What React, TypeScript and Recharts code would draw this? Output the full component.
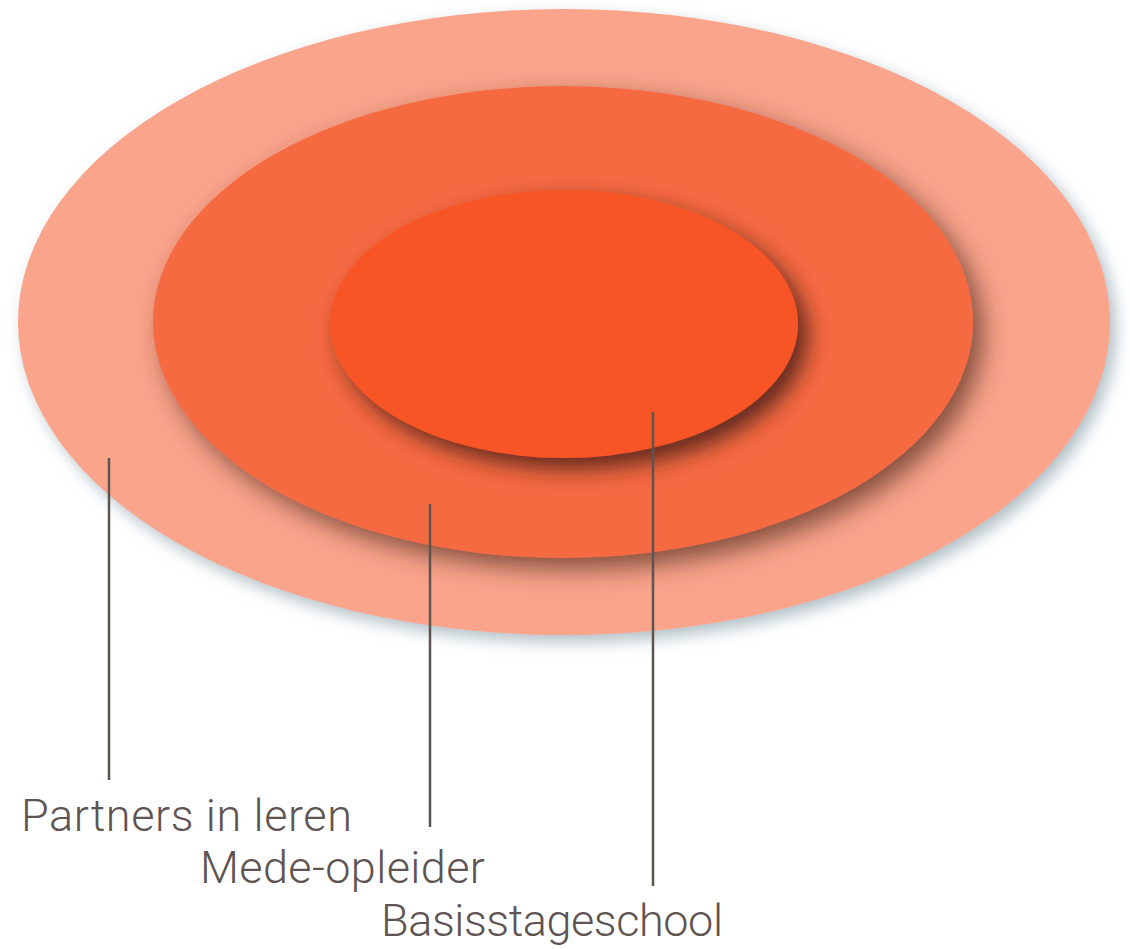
import React from 'react';
import { ComposedChart, XAxis, YAxis, ReferenceArea, ReferenceLine, Scatter } from 'recharts';

// Layers (outer to inner)
const layerNames = ['Partners in leren', 'Mede-opleider', 'Basisstageschool'];
const centerX = [564, 563, 564];
const centerY = [322, 322, 324];
const radiusX = [546, 410, 234];
const radiusY = [313, 236, 134];
const layerColors = ['#FBA48C', '#F66A42', '#F75425'];

// Leader lines
const leaderX = [109, 430, 653];
const leaderTop = [458, 504, 412];
const leaderBottom = [780, 827, 886];

// Labels (left x, baseline y)
const labelX = [21, 200, 381];
const labelY = [831, 883, 936];
const labelWidth = [331, 285, 342];

const W = 1130;
const H = 949;

const shadowIds = ['shadowOuter', 'shadowMid', 'shadowInner'];
const shadowDx = [6, 10, 10];
const shadowDy = [7, 11, 11];
const shadowBlur = [8, 13, 11];
const shadowColor = ['#6f8a96', '#5a3320', '#4a2414'];
const shadowOpacity = [0.55, 0.75, 0.85];

const EllipseShape = (idx: number) => (props: any) => {
  const { x, y, width, height } = props;
  const id = shadowIds[idx];
  return (
    <g>
      <defs>
        <filter id={id} x="-20%" y="-20%" width="140%" height="140%">
          <feDropShadow
            dx={shadowDx[idx]}
            dy={shadowDy[idx]}
            stdDeviation={shadowBlur[idx]}
            floodColor={shadowColor[idx]}
            floodOpacity={shadowOpacity[idx]}
          />
        </filter>
      </defs>
      <ellipse
        cx={x + width / 2}
        cy={y + height / 2}
        rx={width / 2}
        ry={height / 2}
        fill={layerColors[idx]}
        filter={`url(#${id})`}
      />
    </g>
  );
};

const labelPoints = layerNames.map((name, i) => ({ x: labelX[i], y: labelY[i], name, w: labelWidth[i] }));

const LabelShape = (props: any) => {
  const { cx, cy, payload } = props;
  return (
    <text
      x={cx}
      y={cy}
      fill="#5E5452"
      fontFamily="Roboto, 'DejaVu Sans', sans-serif"
      fontWeight={300}
      fontSize={45}
      textLength={payload.w}
      lengthAdjust="spacing"
    >
      {payload.name}
    </text>
  );
};

export default function App() {
  return (
    <div style={{ position: 'absolute', left: 0, top: 0, width: W, height: H, background: '#fff' }}>
      <ComposedChart width={W} height={H} margin={{ top: 0, right: 0, bottom: 0, left: 0 }}>
        <XAxis type="number" dataKey="x" domain={[0, W]} hide allowDataOverflow />
        <YAxis type="number" dataKey="y" domain={[0, H]} reversed hide allowDataOverflow />
        {layerNames.map((name, i) => (
          <ReferenceArea
            key={name}
            x1={centerX[i] - radiusX[i]}
            x2={centerX[i] + radiusX[i]}
            y1={centerY[i] - radiusY[i]}
            y2={centerY[i] + radiusY[i]}
            ifOverflow="visible"
            shape={EllipseShape(i)}
          />
        ))}
        {layerNames.map((name, i) => (
          <ReferenceLine
            key={'l' + name}
            segment={[
              { x: leaderX[i], y: leaderTop[i] },
              { x: leaderX[i], y: leaderBottom[i] },
            ]}
            stroke="#5E5452"
            strokeWidth={2.5}
            ifOverflow="visible"
          />
        ))}
        <Scatter data={labelPoints} dataKey="y" shape={LabelShape} isAnimationActive={false} />
      </ComposedChart>
    </div>
  );
}
